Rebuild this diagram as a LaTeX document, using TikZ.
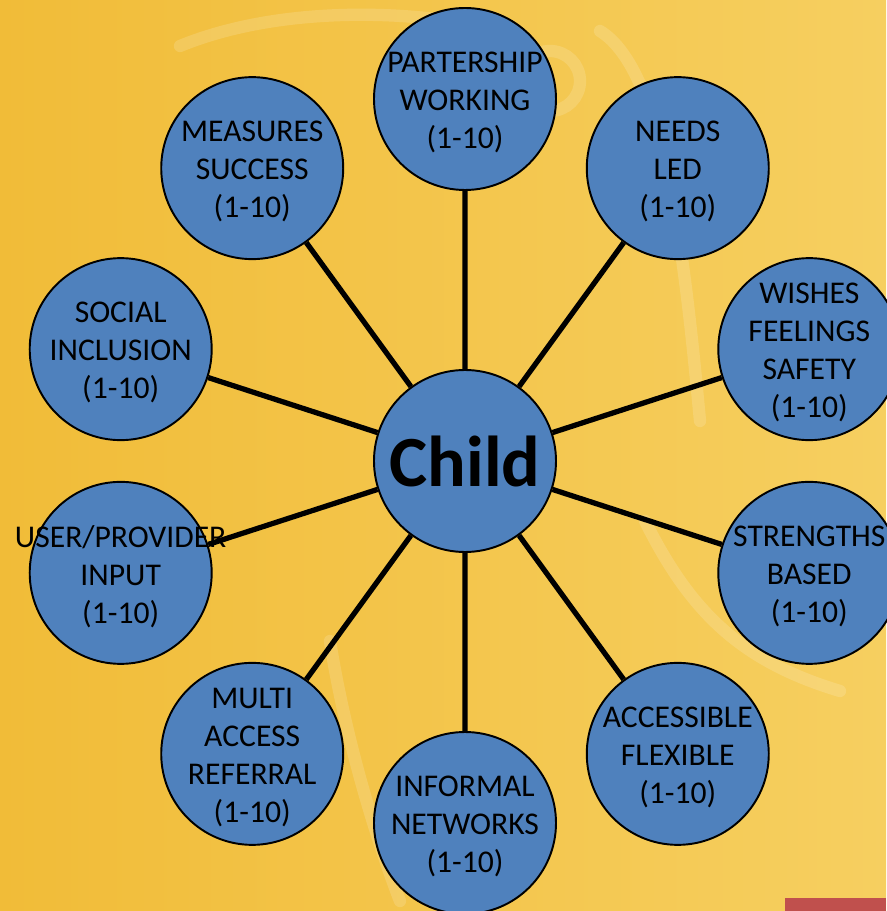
\documentclass[tikz,border=0pt]{standalone}
\usepackage{fontspec}
\setmainfont{Carlito}
\definecolor{bubble}{HTML}{4F81BD}
\definecolor{sunlight}{HTML}{F1BC38}
\definecolor{paleyellow}{HTML}{F6CF60}
\definecolor{slidered}{HTML}{C0504D}
\tikzset{
  aspect/.style={circle, draw=black, line width=1.1pt, fill=bubble,
    minimum size=3.64cm, inner sep=0pt},
  aspecttext/.style={align=center, inner sep=0pt, yshift=-0.07cm,
    font=\fontsize{18}{21.6}\selectfont},
  spoke/.style={line width=3pt},
  swirl/.style={white, opacity=.15, line width=7pt, line cap=round},
}
\begin{document}
\begin{tikzpicture}
        % Hintergrund
        \useasboundingbox (-9.30,-9.00) rectangle (8.42,9.22);
        \shade[left color=sunlight, right color=paleyellow] (-9.30,-9.00) rectangle (8.42,9.22);
        \draw[swirl]
        (-5.7,8.3) .. controls (-3.5,9.2) and (-0.5,9.0) .. (1.1,8.5)
        (2.7,8.6) .. controls (4.0,7.8) and (4.4,4.0) .. (4.7,0.8)
        (-2.7,-3.6) .. controls (-2.4,-5.5) and (-1.8,-7.5) .. (-1.3,-8.8)
        (3.6,-1.2) .. controls (4.5,-3.0) and (5.5,-4.0) .. (7.5,-4.6);
        \draw[swirl] (1.7,7.6) circle (0.6);
        % Rand unten rechts
        \fill[slidered] (6.4,-9.00) rectangle (8.42,-8.74);
        % Mitte
        \node[aspect, font=\bfseries\fontsize{41}{48}\selectfont] (child) at (0,0) {Child};
        % Aspekte
        \node[aspect, label={[aspecttext]center:{PARTERSHIP\\WORKING\\(1-10)}}] (partnership) at (90:7.24) {};
        \node[aspect, label={[aspecttext]center:{NEEDS\\LED\\(1-10)}}] (needs) at (54:7.24) {};
        \node[aspect, label={[aspecttext]center:{WISHES\\FEELINGS\\SAFETY\\(1-10)}}] (wishes) at (18:7.24) {};
        \node[aspect, label={[aspecttext]center:{STRENGTHS\\BASED\\(1-10)}}] (strengths) at (-18:7.24) {};
        \node[aspect, label={[aspecttext]center:{ACCESSIBLE\\FLEXIBLE\\(1-10)}}] (accessible) at (-54:7.24) {};
        \node[aspect, label={[aspecttext]center:{INFORMAL\\NETWORKS\\(1-10)}}] (informal) at (-90:7.24) {};
        \node[aspect, label={[aspecttext]center:{MULTI\\ACCESS\\REFERRAL\\(1-10)}}] (referral) at (-126:7.24) {};
        \node[aspect, label={[aspecttext]center:{USER/PROVIDER\\INPUT\\(1-10)}}] (userinput) at (-162:7.24) {};
        \node[aspect, label={[aspecttext]center:{SOCIAL\\INCLUSION\\(1-10)}}] (inclusion) at (162:7.24) {};
        \node[aspect, label={[aspecttext]center:{MEASURES\\SUCCESS\\(1-10)}}] (success) at (126:7.24) {};
        % Speichen
        \draw[spoke]
        (child) -- (partnership)
        (child) -- (needs)
        (child) -- (wishes)
        (child) -- (strengths)
        (child) -- (accessible)
        (child) -- (informal)
        (child) -- (referral)
        (child) -- (userinput)
        (child) -- (inclusion)
        (child) -- (success);
    \end{tikzpicture}
\end{document}
